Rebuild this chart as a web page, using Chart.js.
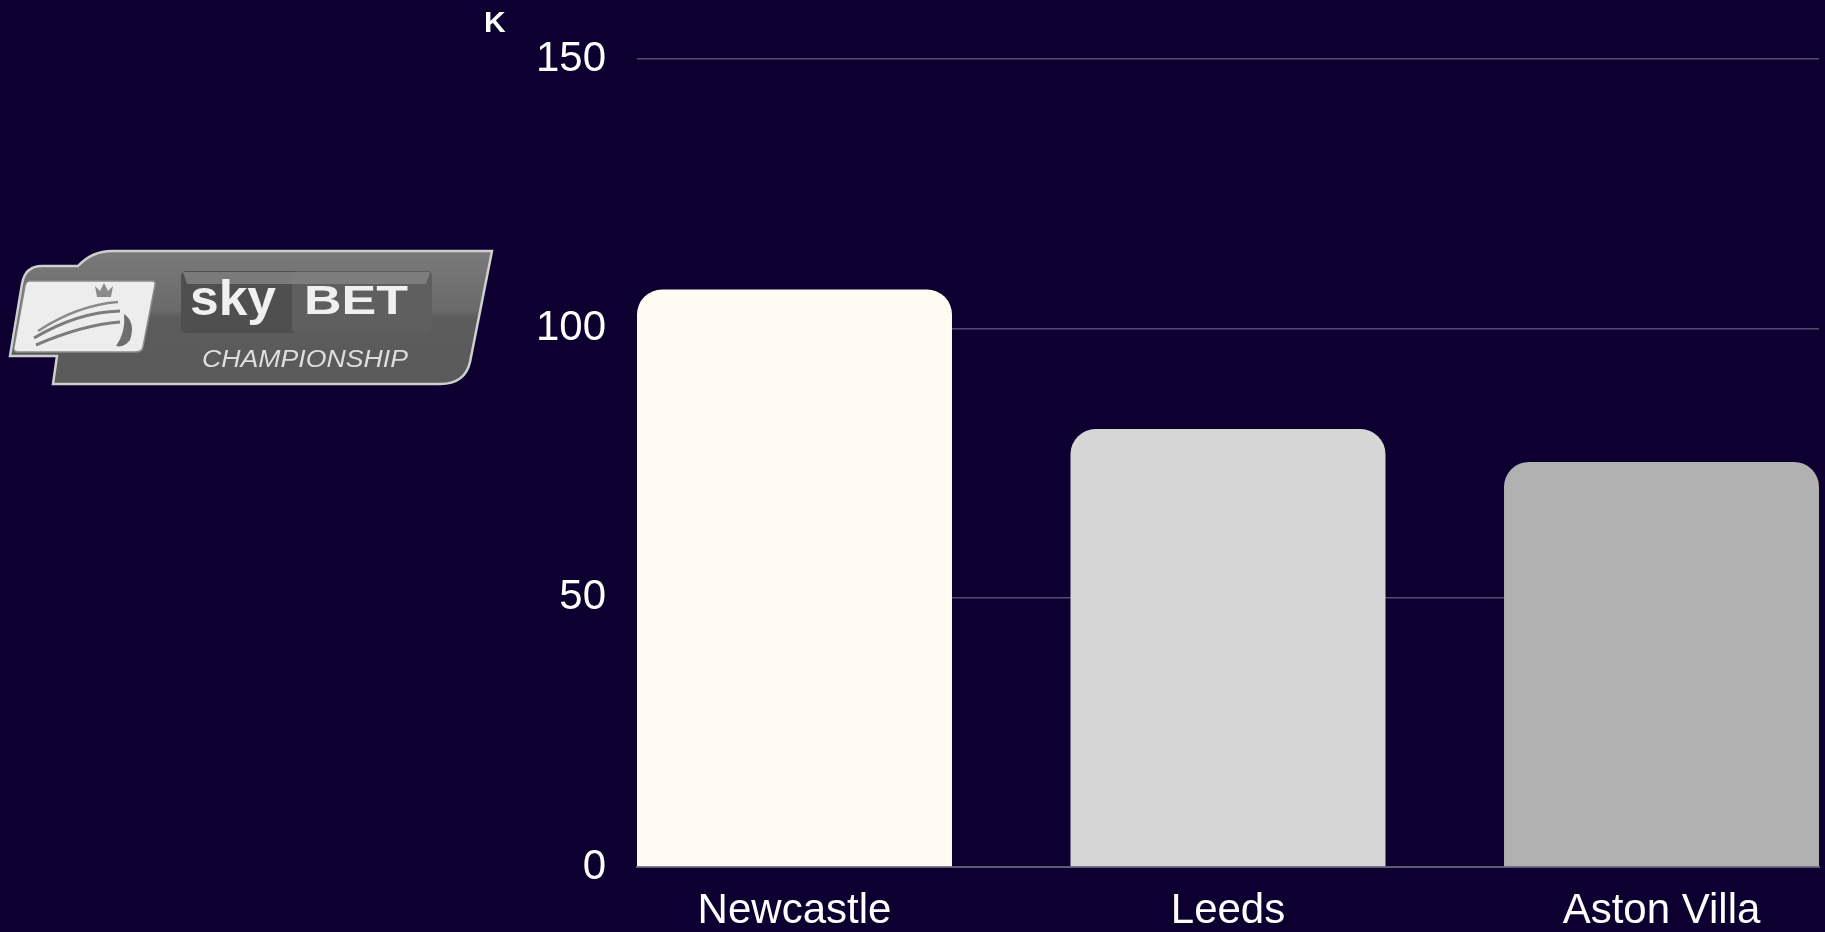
<!DOCTYPE html>
<html>
<head>
<meta charset="utf-8">
<script src="https://cdn.jsdelivr.net/npm/chart.js@4.4.1/dist/chart.umd.min.js"></script>
<style>
  html, body { margin: 0; padding: 0; background: #0d0030; }
  #wrap { position: relative; width: 1825px; height: 932px; }
  #logo { position: absolute; left: 0; top: 0; }
  canvas { position: absolute; left: 0; top: 0; }
</style>
</head>
<body>
<div id="wrap">
  <canvas id="chart" width="1825" height="932"></canvas>
  <svg id="logo" width="500" height="400" viewBox="0 0 500 400">
    <defs>
      <linearGradient id="plate" x1="0" y1="0" x2="0" y2="1">
        <stop offset="0" stop-color="#7a7a7a"/>
        <stop offset="0.45" stop-color="#6a6a6a"/>
        <stop offset="0.5" stop-color="#5c5c5c"/>
        <stop offset="1" stop-color="#5a5a5a"/>
      </linearGradient>
    </defs>
    <path d="M 10 356 L 22 284 Q 25 266 42 266 L 78 266 Q 92 251 112 251 L 492 251 L 470 362 Q 465 384 440 384 L 53 384 L 57 356 Z"
          fill="url(#plate)" stroke="#cfcfcf" stroke-width="2.5"/>
    <path d="M 30 281 L 152 281 Q 156 281 155 285 L 143 347 Q 142 352 136 352 L 18 352 Q 13 352 14 347 L 25 286 Q 26 281 30 281 Z"
          fill="#ededed" stroke="#8a8a8a" stroke-width="1.5"/>
    <path d="M 34 338 Q 78 312 120 311" stroke="#7c7c7c" stroke-width="3" fill="none"/>
    <path d="M 38 331 Q 78 305 118 302" stroke="#8a8a8a" stroke-width="2.5" fill="none"/>
    <path d="M 36 345 Q 82 325 120 322" stroke="#7c7c7c" stroke-width="3" fill="none"/>
    <path d="M 97 297 L 95 286 L 100 291 L 104 283 L 108 291 L 113 286 L 111 297 Z" fill="#8a8a8a"/>
    <path d="M 124 314 Q 136 322 130 340 Q 124 348 116 346 Q 126 332 124 314 Z" fill="#6e6e6e"/>
    <rect x="181" y="271" width="251" height="62" rx="5" fill="#4f4f4f"/>
    <rect x="292" y="271" width="140" height="62" rx="5" fill="#5f5f5f"/>
    <path d="M 183 272 L 430 272 L 426 284 L 187 284 Z" fill="#858585" opacity="0.8"/>
    <text x="190" y="315" font-family="Liberation Sans, Arial, sans-serif" font-weight="bold" font-size="50"
          fill="#f0f0f0" textLength="86" lengthAdjust="spacingAndGlyphs">sky</text>
    <text x="304" y="314" font-family="Liberation Sans, Arial, sans-serif" font-weight="bold" font-size="40"
          fill="#f0f0f0" textLength="104" lengthAdjust="spacingAndGlyphs">BET</text>
    <text x="202" y="367" font-family="Liberation Sans, Arial, sans-serif" font-style="italic" font-size="23"
          fill="#dedede" textLength="206" lengthAdjust="spacingAndGlyphs">CHAMPIONSHIP</text>
  </svg>
</div>
<script>
const clubs = ['Newcastle', 'Leeds', 'Aston Villa']
const attendance = [107.2, 81.3, 75.2]
const yTicks = [0, 50, 100, 150]
const barColors = ['#fffbf3', '#d6d6d6', '#b1b1b1']
const unitLabel = 'K'

const barPct = 0.7266
const half = barPct / 2

const font = { family: "'Liberation Sans', Arial, sans-serif", size: 42 }

const unitPlugin = {
  id: 'unit',
  afterDraw(chart) {
    const c = chart.ctx
    const area = chart.chartArea
    c.save()
    c.fillStyle = '#ffffff'
    c.font = "bold 30px 'Liberation Sans', Arial, sans-serif"
    c.textAlign = 'left'
    c.textBaseline = 'alphabetic'
    c.fillText(unitLabel, area.left - 153, area.top - 27)
    c.restore()
  }
}

new Chart(document.getElementById('chart'), {
  type: 'bar',
  data: {
    datasets: [
      {
        data: clubs.map((c, i) => ({ x: i, y: attendance[i] })),
        backgroundColor: barColors,
        borderWidth: 0,
        borderRadius: 25,
        borderSkipped: 'start',
        barPercentage: barPct,
        categoryPercentage: 1
      }
    ]
  },
  options: {
    responsive: false,
    animation: false,
    events: [],
    layout: { padding: { top: 0, right: 6, left: 0, bottom: 0 } },
    plugins: {
      legend: { display: false },
      tooltip: { enabled: false }
    },
    scales: {
      x: {
        type: 'linear',
        offset: false,
        bounds: 'data',
        min: -half,
        max: clubs.length - 1 + half,
        afterBuildTicks: s => { s.ticks = clubs.map((c, i) => ({ value: i })) },
        afterFit: s => { s.height = 65 },
        grid: { display: false, drawTicks: false, offset: false },
        border: { display: true, color: '#5e5878', width: 2 },
        ticks: {
          color: '#ffffff',
          font: font,
          padding: 19,
          maxRotation: 0,
          autoSkip: false,
          callback: v => clubs[v]
        }
      },
      y: {
        min: yTicks[0],
        max: yTicks[yTicks.length - 1],
        afterBuildTicks: s => { s.ticks = yTicks.map(v => ({ value: v })) },
        afterFit: s => { s.width = 637; s.paddingTop = 59 },
        grid: { color: '#534b6e', lineWidth: 1.5, drawTicks: false },
        border: { display: false },
        ticks: {
          color: '#ffffff',
          font: font,
          padding: 31
        }
      }
    }
  },
  plugins: [unitPlugin]
})
</script>
</body>
</html>
